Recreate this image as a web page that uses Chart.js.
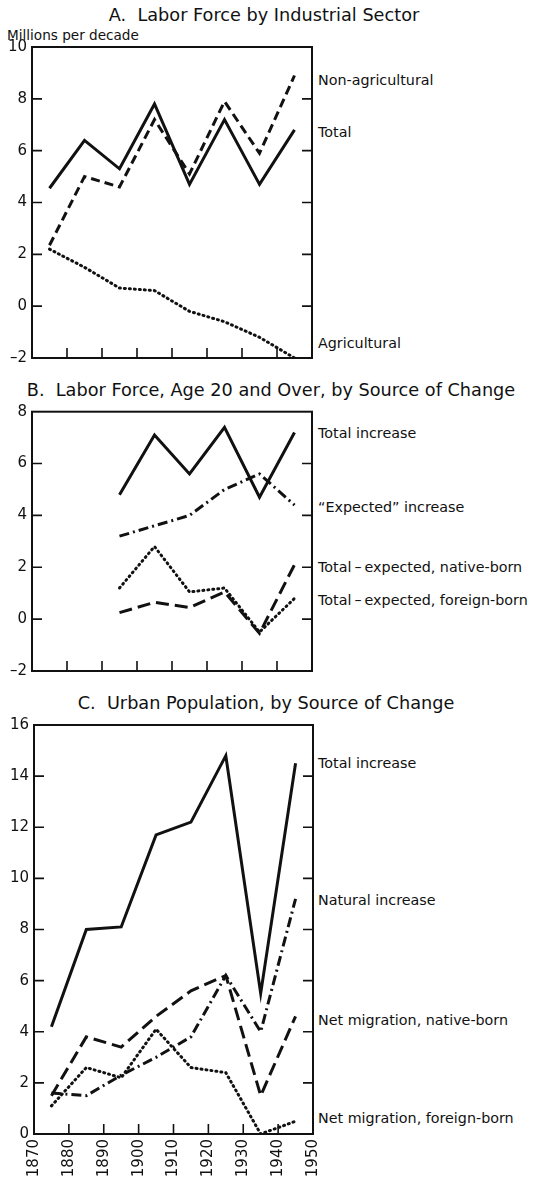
<!DOCTYPE html>
<html>
<head>
<meta charset="utf-8">
<script src="https://cdn.jsdelivr.net/npm/chart.js@4.4.0/dist/chart.umd.min.js"></script>
<style>
  body { margin: 0; background: #fff; width: 537px; height: 1180px; position: relative; overflow: hidden;
         font-family: "DejaVu Sans", sans-serif; color: #111; }
  canvas { position: absolute; left: 0; }
  .t { position: absolute; white-space: nowrap; transform: translateY(-50%); }
  .title { font-size: 17.7px; transform: translate(-50%, -50%); }
  .lab { left: 318px; font-size: 14.3px; }
  .d { margin: 0 3px; }
</style>
</head>
<body>
<div class="t title" style="left:264px;top:15px">A.&nbsp; Labor Force by Industrial Sector</div>
<div class="t" style="left:7px;top:35px;font-size:13.6px">Millions per decade</div>
<div class="t lab" style="top:80px">Non-agricultural</div>
<div class="t lab" style="top:132px">Total</div>
<div class="t lab" style="top:343px">Agricultural</div>

<div class="t title" style="left:271px;top:390px">B.&nbsp; Labor Force, Age 20 and Over, by Source of Change</div>
<div class="t lab" style="top:433px">Total increase</div>
<div class="t lab" style="top:507px">“Expected” increase</div>
<div class="t lab" style="top:567px">Total<span class="d">–</span>expected, native-born</div>
<div class="t lab" style="top:600px">Total<span class="d">–</span>expected, foreign-born</div>

<div class="t title" style="left:266px;top:703px">C.&nbsp; Urban Population, by Source of Change</div>
<div class="t lab" style="top:763px">Total increase</div>
<div class="t lab" style="top:900px">Natural increase</div>
<div class="t lab" style="top:1020px">Net migration, native-born</div>
<div class="t lab" style="top:1118px">Net migration, foreign-born</div>

<canvas id="chartA" width="537" height="375" style="top:0px"></canvas>
<canvas id="chartB" width="537" height="305" style="top:380px"></canvas>
<canvas id="chartC" width="537" height="490" style="top:690px"></canvas>

<script>
// decade mid-points
const years = [1875, 1885, 1895, 1905, 1915, 1925, 1935, 1945];
const yearsB = [1895, 1905, 1915, 1925, 1935, 1945];
const tickYears = [1880, 1890, 1900, 1910, 1920, 1930, 1940];

// A. Labor force by industrial sector
const aTotal = [4.55, 6.4, 5.3, 7.8, 4.7, 7.2, 4.7, 6.8];
const aNonAg = [2.35, 5.0, 4.6, 7.2, 5.1, 7.9, 5.9, 8.9];
const aAg = [2.2, 1.5, 0.7, 0.6, -0.2, -0.6, -1.2, -2.0];

// B. Labor force age 20+, by source of change
const bTotal = [4.8, 7.1, 5.6, 7.4, 4.7, 7.2];
const bExpected = [3.2, 3.6, 4.0, 5.0, 5.6, 4.4];
const bNative = [0.25, 0.65, 0.45, 1.05, -0.55, 2.1];
const bForeign = [1.2, 2.8, 1.05, 1.2, -0.5, 0.8];

// C. Urban population, by source of change
const cTotal = [4.2, 8.0, 8.1, 11.7, 12.2, 14.8, 5.5, 14.5];
const cNatural = [1.6, 1.5, 2.3, 3.0, 3.8, 6.2, 4.0, 9.2];
const cNative = [1.5, 3.8, 3.4, 4.6, 5.6, 6.2, 1.5, 4.6];
const cForeign = [1.1, 2.6, 2.2, 4.1, 2.6, 2.4, 0, 0.5];

const INK = '#111';
const SOLID = [];
const DASH = [9, 5];
const LONGDASH = [13, 6];
const DOT = [1, 4];
const DASHDOT = [10, 4, 2, 4];

function line(xs, ys, dash) {
    return {
        data: xs.map((x, i) => ({ x: x, y: ys[i] })),
        borderColor: INK,
        borderWidth: 3,
        borderDash: dash,
        borderCapStyle: dash === DOT ? 'round' : 'butt',
        borderJoinStyle: 'miter',
        pointRadius: 0,
        tension: 0,
        fill: false
    };
}

// box round the plot, with inward ticks
const frame = {
    id: 'frame',
    afterDraw(chart) {
        const { ctx, chartArea: a, scales: { x, y } } = chart;
        ctx.save();
        ctx.strokeStyle = INK;
        ctx.lineWidth = 2;
        ctx.strokeRect(a.left, a.top, a.right - a.left, a.bottom - a.top);
        ctx.lineWidth = 1.6;
        ctx.beginPath();
        y.ticks.forEach(t => {
            const py = y.getPixelForValue(t.value);
            if (py <= a.top + 1 || py >= a.bottom - 1) return;
            ctx.moveTo(a.left, py); ctx.lineTo(a.left + 10, py);
            ctx.moveTo(a.right - 10, py); ctx.lineTo(a.right, py);
        });
        tickYears.forEach(yr => {
            const px = x.getPixelForValue(yr);
            ctx.moveTo(px, a.bottom); ctx.lineTo(px, a.bottom - 10);
        });
        ctx.stroke();
        ctx.restore();
    }
};

function makeChart(id, datasets, ymin, ymax, pad, yWidth, showYears) {
    const ctx = document.getElementById(id).getContext('2d');
    return new Chart(ctx, {
        type: 'line',
        data: { datasets: datasets },
        options: {
            responsive: false,
            animation: false,
            layout: { padding: pad },
            plugins: { legend: { display: false }, tooltip: { enabled: false } },
            scales: {
                x: {
                    type: 'linear', min: 1870, max: 1950,
                    grid: { display: false, drawTicks: false }, border: { display: false },
                    ticks: {
                        display: showYears, stepSize: 10, autoSkip: false,
                        minRotation: 90, maxRotation: 90, padding: 5,
                        color: INK, font: { family: 'DejaVu Sans', size: 15 },
                        callback: v => String(v)
                    },
                    afterFit: s => { s.height = showYears ? 46 : 0; }
                },
                y: {
                    min: ymin, max: ymax,
                    grid: { display: false, drawTicks: false }, border: { display: false },
                    ticks: {
                        stepSize: 2, padding: 5, color: INK,
                        font: { family: 'DejaVu Sans', size: 15 },
                        callback: v => (v < 0 ? '\u2013' + Math.abs(v) : String(v))
                    },
                    afterFit: s => { s.width = yWidth; }
                }
            }
        },
        plugins: [frame]
    });
}

makeChart('chartA', [
    line(years, aTotal, SOLID),
    line(years, aNonAg, DASH),
    line(years, aAg, DOT)
], -2, 10, { top: 47, bottom: 17, left: 0, right: 225 }, 32, false);

makeChart('chartB', [
    line(yearsB, bTotal, SOLID),
    line(yearsB, bExpected, DASHDOT),
    line(yearsB, bNative, LONGDASH),
    line(yearsB, bForeign, DOT)
], -2, 8, { top: 31.7, bottom: 13.3, left: 0, right: 225 }, 32, false);

makeChart('chartC', [
    line(years, cTotal, SOLID),
    line(years, cNatural, DASHDOT),
    line(years, cNative, LONGDASH),
    line(years, cForeign, DOT)
], 0, 16, { top: 35, bottom: 0, left: 0, right: 224 }, 34, true);
</script>
</body>
</html>
